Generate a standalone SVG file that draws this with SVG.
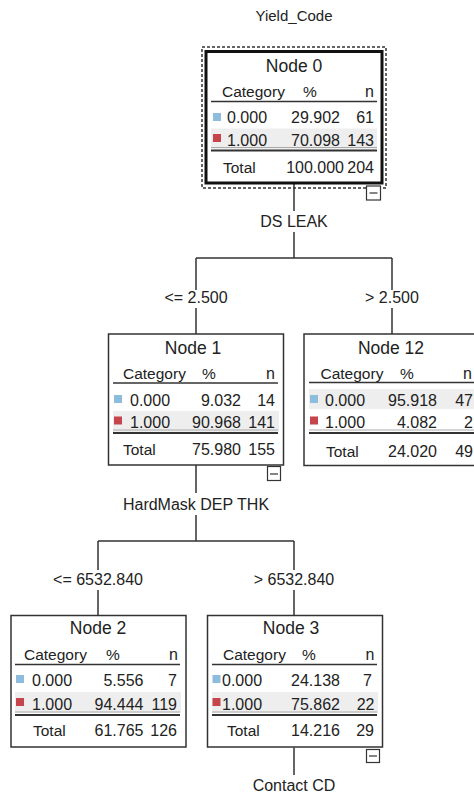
<svg xmlns="http://www.w3.org/2000/svg" width="474" height="793" viewBox="0 0 474 793">
<style>
text{font-family:"Liberation Sans",Arial,sans-serif;fill:#222}
.lbl{font-size:16px;text-anchor:middle}
.ttl{font-size:17.5px;text-anchor:middle}
.t{font-size:15.5px}
.e{text-anchor:end;font-size:16px}
.m{text-anchor:middle}
.box{fill:#fff;stroke:#333;stroke-width:1.5}
.hl{fill:#eeeeee}
.hline{stroke:#333;stroke-width:1.5}
.uline{stroke:#aaa;stroke-width:1}
.tline{stroke:#333;stroke-width:2}
.c0{fill:#8dbcdc}
.c1{fill:#c6454d}
.btn{fill:#fff;stroke:#333;stroke-width:1.2}
.conn{fill:none;stroke:#333;stroke-width:1.5}
</style>
<rect width="474" height="793" fill="#fff"/>
<g id="connectors" class="conn">
<path d="M294 183.5V211M294 232V258M196 258H392M196 258V290M196 308V334M392 258V290M392 308V334"/>
<path d="M196 465V493M196 515V541M98 541H294M98 541V570M98 590V615.5M294 541V570M294 590V615.5M294 747.5V775"/>
</g>
<g id="labels">
<text class="lbl" x="294" y="21" style="font-size:15px">Yield_Code</text>
<text class="lbl" x="294" y="226.5">DS LEAK</text>
<text class="lbl" x="196" y="303">&lt;= 2.500</text>
<text class="lbl" x="392" y="303">&gt; 2.500</text>
<text class="lbl" x="196" y="509.5">HardMask DEP THK</text>
<text class="lbl" x="98" y="585">&lt;= 6532.840</text>
<text class="lbl" x="294" y="585">&gt; 6532.840</text>
<text class="lbl" x="294" y="790.5">Contact CD</text>
</g>
<g id="node0">
<rect x="202" y="47" width="184" height="141" fill="none" stroke="#333" stroke-width="1.5" stroke-dasharray="3 2"/>
<rect x="206" y="51.5" width="176" height="131.5" fill="#fff" stroke="#111" stroke-width="3"/>
<rect class="hl" x="211" y="128.5" width="166" height="21"/>
<text class="ttl" x="294" y="71.5">Node 0</text>
<text class="t" x="222" y="96.5">Category</text>
<text class="t m" x="310" y="96.5">%</text>
<text class="t e" x="374" y="96.5">n</text>
<line class="hline" x1="211" y1="101.5" x2="377" y2="101.5"/>
<rect class="c0" x="213" y="113" width="8" height="8"/>
<text class="t" x="227" y="123" style="font-size:16px">0.000</text>
<text class="t e" x="340" y="123">29.902</text>
<text class="t e" x="374" y="123">61</text>
<rect class="c1" x="213" y="134" width="8" height="8"/>
<text class="t" x="227" y="145.5" style="font-size:16px">1.000</text>
<text class="t e" x="340" y="145.5">70.098</text>
<text class="t e" x="374" y="145.5">143</text>
<line class="uline" x1="211" y1="147.5" x2="377" y2="147.5"/>
<line class="tline" x1="211" y1="150.5" x2="377" y2="150.5"/>
<text class="t" x="223" y="172.5">Total</text>
<text class="t e" x="344" y="172.5">100.000</text>
<text class="t e" x="374" y="172.5">204</text>
<rect class="btn" x="366.5" y="186" width="14" height="14"/>
<line x1="369.5" y1="193" x2="377.5" y2="193" stroke="#333" stroke-width="1.2"/>
</g>
<g id="node1">
<rect class="box" x="108.5" y="334" width="175" height="131"/>
<rect class="hl" x="113" y="411" width="166" height="21"/>
<text class="ttl" x="193" y="353.5">Node 1</text>
<text class="t" x="123" y="378.5">Category</text>
<text class="t m" x="209" y="378.5">%</text>
<text class="t e" x="275" y="378.5">n</text>
<line class="hline" x1="113" y1="383" x2="278" y2="383"/>
<rect class="c0" x="114" y="395" width="8" height="8"/>
<text class="t" x="130" y="405.5" style="font-size:16px">0.000</text>
<text class="t e" x="241" y="405.5">9.032</text>
<text class="t e" x="275" y="405.5">14</text>
<rect class="c1" x="114" y="416.5" width="8" height="8"/>
<text class="t" x="130" y="428" style="font-size:16px">1.000</text>
<text class="t e" x="241" y="428">90.968</text>
<text class="t e" x="275" y="428">141</text>
<line class="uline" x1="113" y1="430" x2="278" y2="430"/>
<line class="tline" x1="113" y1="433" x2="278" y2="433"/>
<text class="t" x="123" y="455">Total</text>
<text class="t e" x="241" y="455">75.980</text>
<text class="t e" x="275" y="455">155</text>
<rect class="btn" x="267.5" y="466.5" width="13" height="14"/>
<line x1="270" y1="474" x2="278" y2="474" stroke="#333" stroke-width="1.2"/>
</g>
<g id="node12">
<rect class="box" x="304" y="334" width="200" height="131.5"/>
<rect class="hl" x="309" y="389" width="170" height="20"/>
<text class="ttl" x="391" y="353.5">Node 12</text>
<text class="t" x="320.5" y="378.5">Category</text>
<text class="t m" x="407" y="378.5">%</text>
<text class="t e" x="472" y="378.5">n</text>
<line class="hline" x1="309" y1="382.5" x2="480" y2="382.5"/>
<rect class="c0" x="310" y="395" width="8" height="8"/>
<text class="t" x="325" y="405.5" style="font-size:16px">0.000</text>
<text class="t e" x="437" y="405.5">95.918</text>
<text class="t e" x="473" y="405.5">47</text>
<rect class="c1" x="310" y="416.5" width="8" height="8"/>
<text class="t" x="325" y="428" style="font-size:16px">1.000</text>
<text class="t e" x="437" y="428">4.082</text>
<text class="t e" x="473" y="428">2</text>
<line class="uline" x1="309" y1="430" x2="480" y2="430"/>
<line class="tline" x1="309" y1="433" x2="480" y2="433"/>
<text class="t" x="326" y="456.5">Total</text>
<text class="t e" x="437" y="456.5">24.020</text>
<text class="t e" x="473" y="456.5">49</text>
</g>
<g id="node2">
<rect class="box" x="11" y="615.5" width="175" height="131.5"/>
<rect class="hl" x="15" y="692" width="166" height="21"/>
<text class="ttl" x="98" y="633.5">Node 2</text>
<text class="t" x="24" y="660">Category</text>
<text class="t m" x="113" y="660">%</text>
<text class="t e" x="178" y="660">n</text>
<line class="hline" x1="15" y1="664.5" x2="180" y2="664.5"/>
<rect class="c0" x="16" y="675" width="8" height="8"/>
<text class="t" x="32" y="686" style="font-size:16px">0.000</text>
<text class="t e" x="143.5" y="686">5.556</text>
<text class="t e" x="177" y="686">7</text>
<rect class="c1" x="16" y="698" width="8" height="8"/>
<text class="t" x="32" y="710" style="font-size:16px">1.000</text>
<text class="t e" x="143.5" y="710">94.444</text>
<text class="t e" x="177" y="710">119</text>
<line class="uline" x1="15" y1="712" x2="180" y2="712"/>
<line class="tline" x1="15" y1="715" x2="180" y2="715"/>
<text class="t" x="33" y="736">Total</text>
<text class="t e" x="143.5" y="736">61.765</text>
<text class="t e" x="177" y="736">126</text>
</g>
<g id="node3">
<rect class="box" x="207.5" y="615.5" width="175" height="131.5"/>
<rect class="hl" x="212" y="692" width="166" height="21"/>
<text class="ttl" x="291" y="633.5">Node 3</text>
<text class="t" x="223" y="660">Category</text>
<text class="t m" x="309" y="660">%</text>
<text class="t e" x="374.5" y="660">n</text>
<line class="hline" x1="212" y1="664.5" x2="377" y2="664.5"/>
<rect class="c0" x="212.5" y="675" width="8" height="8"/>
<text class="t" x="222" y="686" style="font-size:16px">0.000</text>
<text class="t e" x="340" y="686">24.138</text>
<text class="t e" x="372" y="686">7</text>
<rect class="c1" x="212.5" y="698" width="8" height="8"/>
<text class="t" x="222" y="710" style="font-size:16px">1.000</text>
<text class="t e" x="340" y="710">75.862</text>
<text class="t e" x="374.5" y="710">22</text>
<line class="uline" x1="212" y1="712" x2="377" y2="712"/>
<line class="tline" x1="212" y1="715" x2="377" y2="715"/>
<text class="t" x="227" y="736">Total</text>
<text class="t e" x="340" y="736">14.216</text>
<text class="t e" x="374" y="736">29</text>
<rect class="btn" x="366.5" y="749.5" width="13" height="13"/>
<line x1="369" y1="756" x2="377" y2="756" stroke="#333" stroke-width="1.2"/>
</g>
</svg>
